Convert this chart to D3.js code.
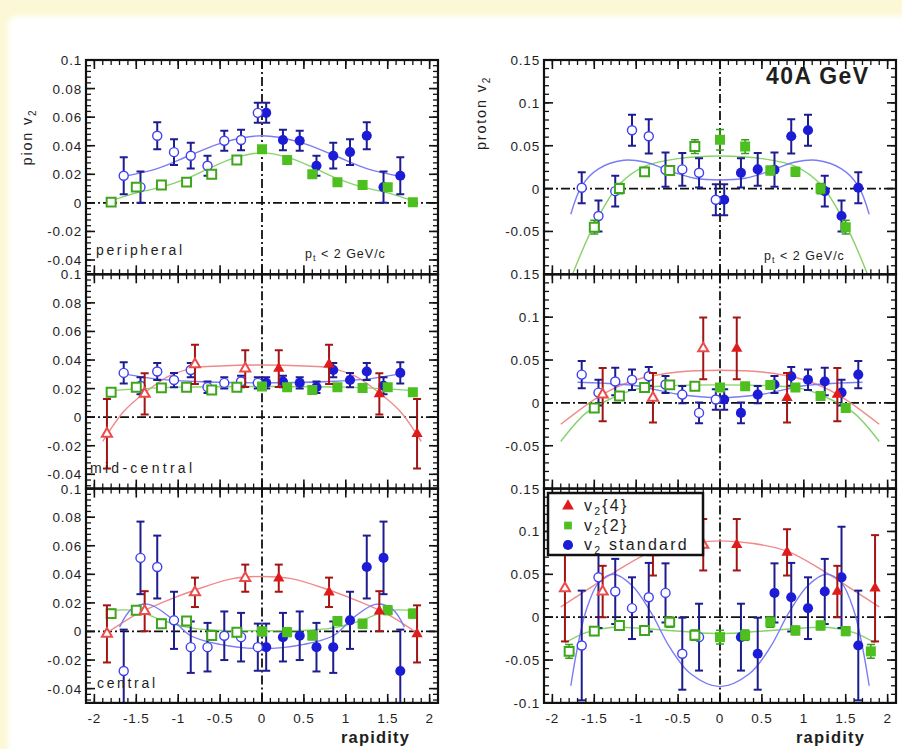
<!DOCTYPE html>
<html>
<head>
<meta charset="utf-8">
<title>v2 vs rapidity, 40A GeV</title>
<script src="https://cdn.jsdelivr.net/npm/d3@7/dist/d3.min.js"></script>
<style>
  html, body { margin: 0; padding: 0; background: #fcf8d6; }
  svg { display: block; }
  text { font-family: "Liberation Sans", Arial, Helvetica, sans-serif; fill: #1e1e1e; }
</style>
</head>
<body>
<svg id="chart" width="902" height="749"></svg>
<script>
// ---- rapidity bins (forward hemisphere; backward points are the reflections) ----
const stdRap  = [0.05, 0.25, 0.45, 0.65, 0.85, 1.05, 1.25, 1.45, 1.65];
const cum2Rap = [0, 0.3, 0.6, 0.9, 1.2, 1.5, 1.8];
const cum4Rap = [0.2, 0.8, 1.4, 1.85];

// ---- axis ticks ----
const rapTicks = [-2, -1.5, -1, -0.5, 0, 0.5, 1, 1.5, 2];
const rapTickLabels = ["-2", "-1.5", "-1", "-0.5", "0", "0.5", "1", "1.5", "2"];
const pionTicks = [-0.04, -0.02, 0, 0.02, 0.04, 0.06, 0.08, 0.1];
const pionTickLabels = ["-0.04", "-0.02", "0", "0.02", "0.04", "0.06", "0.08", "0.1"];
const protonTicks = [-0.1, -0.05, 0, 0.05, 0.1, 0.15];
const protonTickLabels = ["-0.1", "-0.05", "0", "0.05", "0.1", "0.15"];

// ---- pion, peripheral ----
const pionPerStd    = [0.063, 0.044, 0.0435, 0.026, 0.033, 0.0355, 0.047, 0.011, 0.019];
const pionPerStdErr = [0.007, 0.0072, 0.007, 0.007, 0.009, 0.009, 0.0095, 0.011, 0.013];
const pionPerV2     = [0.0375, 0.030, 0.020, 0.0145, 0.0125, 0.011, 0.0005];
const pionPerV2Err  = [0.002, 0.0015, 0.0015, 0.0015, 0.0015, 0.002, 0.002];
const pionPerStdFit = [[0, 0.047], [0.45, 0.0425], [0.85, 0.0335], [1.25, 0.024], [1.7, 0.018]];
const pionPerV2Fit  = [[0, 0.035], [0.3, 0.032], [0.6, 0.025], [0.9, 0.017], [1.2, 0.011], [1.5, 0.007], [1.85, 0.0005]];

// ---- proton, peripheral ----
const protPerStd    = [-0.013, 0.0184, 0.0224, 0.022, 0.061, 0.068, -0.003, -0.032, 0.001];
const protPerStdErr = [0.018, 0.017, 0.019, 0.02, 0.02, 0.018, 0.018, 0.018, 0.018];
const protPerV2     = [0.057, 0.049, 0.021, 0.0195, 0.0, -0.045];
const protPerV2Err  = [0.012, 0.008, 0.005, 0.005, 0.006, 0.008];
const protPerStdFit = [[0, 0.010], [0.3, 0.012], [0.55, 0.019], [0.9, 0.031], [1.15, 0.033], [1.45, 0.023], [1.65, 0.003], [1.78, -0.03]];
const protPerV2Fit  = [[0, 0.038], [0.5, 0.035], [0.9, 0.026], [1.2, 0.005], [1.5, -0.042], [1.78, -0.105]];

// ---- pion, mid-central ----
const pionMidStd    = [0.024, 0.025, 0.024, 0.021, 0.033, 0.026, 0.032, 0.022, 0.031];
const pionMidStdErr = [0.004, 0.004, 0.004, 0.004, 0.005, 0.005, 0.006, 0.006, 0.0075];
const pionMidV2     = [0.0215, 0.021, 0.019, 0.021, 0.0205, 0.021, 0.0175];
const pionMidV2Err  = [0.0015, 0.0015, 0.0015, 0.0015, 0.0015, 0.0015, 0.002];
const pionMidV4     = [0.034, 0.037, 0.0163, -0.0116];
const pionMidV4Err  = [0.0128, 0.0137, 0.0145, 0.0244];
const pionMidStdFit = [[0, 0.024], [0.8, 0.025], [1.3, 0.027], [1.7, 0.031]];
const pionMidV2Fit  = [[0, 0.0215], [1.0, 0.021], [1.85, 0.0185]];
const pionMidV4Fit  = [[0, 0.0365], [0.5, 0.0358], [0.8, 0.0345], [1.1, 0.029], [1.4, 0.017], [1.65, 0.004], [1.9, -0.017]];

// ---- proton, mid-central ----
const protMidStd    = [0.004, -0.0117, 0.0097, 0.0214, 0.031, 0.027, 0.025, 0.012, 0.033];
const protMidStdErr = [0.012, 0.012, 0.01, 0.01, 0.011, 0.012, 0.016, 0.015, 0.016];
const protMidV2     = [0.018, 0.0195, 0.021, 0.018, 0.008, -0.006];
const protMidV2Err  = [0.004, 0.004, 0.004, 0.004, 0.004, 0.005];
const protMidV4     = [0.0635, 0.006, 0.0097];
const protMidV4Err  = [0.036, 0.029, 0.031];
const protMidStdFit = [[0, 0.006], [0.5, 0.01], [1.0, 0.02], [1.4, 0.023], [1.7, 0.024]];
const protMidV2Fit  = [[0, 0.021], [0.6, 0.02], [1.0, 0.016], [1.3, 0.005], [1.6, -0.012], [1.9, -0.045]];
const protMidV4Fit  = [[0, 0.038], [0.5, 0.036], [1.0, 0.027], [1.4, 0.01], [1.9, -0.025]];

// ---- pion, central ----
const pionCenStd    = [-0.011, -0.004, -0.003, -0.011, -0.011, 0.0078, 0.0451, 0.0515, -0.0277];
const pionCenStdErr = [0.0165, 0.017, 0.017, 0.017, 0.018, 0.02, 0.022, 0.0254, 0.029];
const pionCenV2     = [0.0, -0.0005, -0.0028, 0.0073, 0.0054, 0.0149, 0.0125];
const pionCenV2Err  = [0.003, 0.003, 0.003, 0.003, 0.003, 0.003, 0.003];
const pionCenV4     = [0.0373, 0.0274, 0.0142, -0.0017];
const pionCenV4Err  = [0.0095, 0.0103, 0.014, 0.02];
const pionCenStdFit = [[0, -0.012], [0.5, -0.009], [0.85, -0.003], [1.1, 0.01], [1.35, 0.019], [1.55, 0.016], [1.7, 0.003]];
const pionCenV2Fit  = [[0, 0.0005], [0.6, 0.001], [0.9, 0.003], [1.2, 0.008], [1.5, 0.0145], [1.85, 0.0145]];
const pionCenV4Fit  = [[0, 0.0385], [0.35, 0.037], [0.8, 0.029], [1.2, 0.020], [1.5, 0.012], [1.85, -0.001]];

// ---- proton, central ----
const protCenStd    = [null, -0.0233, -0.0426, 0.0283, 0.0233, 0.0105, 0.030, 0.0465, -0.033];
const protCenStdErr = [null, 0.039, 0.042, 0.0345, 0.04, 0.036, 0.038, 0.059, 0.064];
const protCenV2     = [-0.0233, -0.021, -0.0058, -0.0155, -0.0097, -0.0163, -0.0399];
const protCenV2Err  = [0.008, 0.006, 0.006, 0.005, 0.005, 0.005, 0.008];
const protCenV4     = [0.0845, 0.0756, 0.0299, 0.0337];
const protCenV4Err  = [0.030, 0.027, 0.030, 0.062];
const protCenStdFit = [[0, -0.081], [0.35, -0.066], [0.6, -0.035], [0.82, 0.005], [1.05, 0.037], [1.27, 0.05], [1.45, 0.04], [1.6, 0.007], [1.7, -0.035], [1.78, -0.08]];
const protCenV2Fit  = [[0, -0.019], [0.8, -0.014], [1.3, -0.012], [1.6, -0.018], [1.85, -0.03]];
const protCenV4Fit  = [[0, 0.089], [0.4, 0.086], [0.8, 0.077], [1.2, 0.056], [1.6, 0.031], [1.9, 0.012]];

// ---- legend ----
const legendLabels = ["{4}", "{2}", " standard"];

// ---- styles per method ----
const styles = {
  std: { type: d3.symbolCircle,   size: 80, fill: "#1c1cd6", open: "#4040f0", err: "#1d1d8f", fit: "#7b7bf5" },
  v2:  { type: d3.symbolSquare,   size: 100, fill: "#4dbf1f", open: "#3fa51c", err: "#3a9a1a", fit: "#86d36a" },
  v4:  { type: d3.symbolTriangle, size: 55, fill: "#e01b1b", open: "#ea4c4c", err: "#a31515", fit: "#f08a8a" }
};

// ---- layout ----
const W = 902, H = 749;
const colX = [86, 544], colW = 352;
const rowY = [60, 274.3, 488.6], rowH = 214.3;
const yDomains = [[-0.05, 0.1], [-0.1, 0.15]];

const svg = d3.select("#chart");
const defs = svg.append("defs");
defs.append("filter").attr("id", "soft").attr("x", "-5%").attr("y", "-5%").attr("width", "110%").attr("height", "110%")
  .append("feGaussianBlur").attr("stdDeviation", 2.5);

// page card
svg.append("rect").attr("width", W).attr("height", H).attr("fill", "#fcf8d6");
svg.append("rect").attr("x", 8).attr("y", 16).attr("width", W + 20).attr("height", H + 20)
  .attr("rx", 9).attr("fill", "#ffffff").attr("filter", "url(#soft)");

const xScales = colX.map(x0 => d3.scaleLinear().domain([-2.1, 2.1]).range([x0, x0 + colW]));

const panels = [
  { col: 0, row: 0, std: [pionPerStd, pionPerStdErr], v2: [pionPerV2, pionPerV2Err], v4: null,
    fits: { std: pionPerStdFit, v2: pionPerV2Fit } },
  { col: 1, row: 0, std: [protPerStd, protPerStdErr], v2: [protPerV2, protPerV2Err], v4: null,
    fits: { std: protPerStdFit, v2: protPerV2Fit } },
  { col: 0, row: 1, std: [pionMidStd, pionMidStdErr], v2: [pionMidV2, pionMidV2Err], v4: [pionMidV4, pionMidV4Err],
    fits: { std: pionMidStdFit, v2: pionMidV2Fit, v4: pionMidV4Fit } },
  { col: 1, row: 1, std: [protMidStd, protMidStdErr], v2: [protMidV2, protMidV2Err], v4: [protMidV4, protMidV4Err],
    fits: { std: protMidStdFit, v2: protMidV2Fit, v4: protMidV4Fit } },
  { col: 0, row: 2, std: [pionCenStd, pionCenStdErr], v2: [pionCenV2, pionCenV2Err], v4: [pionCenV4, pionCenV4Err],
    fits: { std: pionCenStdFit, v2: pionCenV2Fit, v4: pionCenV4Fit } },
  { col: 1, row: 2, std: [protCenStd, protCenStdErr], v2: [protCenV2, protCenV2Err], v4: [protCenV4, protCenV4Err],
    fits: { std: protCenStdFit, v2: protCenV2Fit, v4: protCenV4Fit } }
];

const rapOf = { std: stdRap, v2: cum2Rap, v4: cum4Rap };

// measured points plus their reflection through mid-rapidity (open symbols)
function reflect(rap, vals, errs) {
  const out = [];
  rap.forEach((r, i) => {
    if (i >= vals.length || vals[i] == null) return;
    out.push({ r, v: vals[i], e: errs[i], open: false });
    if (r > 0) out.push({ r: -r, v: vals[i], e: errs[i], open: true });
  });
  return out;
}

// fit knots are given for y >= 0; the fit is symmetric in rapidity
function mirrorKnots(k) {
  const neg = k.filter(d => d[0] > 0).map(d => [-d[0], d[1]]).reverse();
  return neg.concat(k);
}

function drawAxes(g, x, y, col, row) {
  const x0 = colX[col], x1 = colX[col] + colW;
  const yTop = rowY[row], yBot = rowY[row] + rowH;
  const majorY = col === 0 ? pionTicks : protonTicks;
  const minorStep = col === 0 ? 0.004 : 0.01;
  const dom = yDomains[col];
  const minorY = d3.range(Math.ceil(dom[0] / minorStep - 1e-6), Math.floor(dom[1] / minorStep + 1e-6) + 1)
    .map(k => k * minorStep);
  const minorX = d3.range(-21, 22).map(k => k * 0.1);
  const ax = g.append("g").attr("stroke", "#111").attr("stroke-width", 1.3);
  const big = 9, small = 5;
  minorY.forEach(v => {
    ax.append("line").attr("x1", x0).attr("x2", x0 + small).attr("y1", y(v)).attr("y2", y(v));
    ax.append("line").attr("x1", x1).attr("x2", x1 - small).attr("y1", y(v)).attr("y2", y(v));
  });
  majorY.forEach(v => {
    ax.append("line").attr("x1", x0).attr("x2", x0 + big).attr("y1", y(v)).attr("y2", y(v)).attr("stroke-width", 1.6);
    ax.append("line").attr("x1", x1).attr("x2", x1 - big).attr("y1", y(v)).attr("y2", y(v)).attr("stroke-width", 1.6);
  });
  minorX.forEach(v => {
    ax.append("line").attr("x1", x(v)).attr("x2", x(v)).attr("y1", yBot).attr("y2", yBot - small);
    ax.append("line").attr("x1", x(v)).attr("x2", x(v)).attr("y1", yTop).attr("y2", yTop + small);
  });
  rapTicks.forEach(v => {
    ax.append("line").attr("x1", x(v)).attr("x2", x(v)).attr("y1", yBot).attr("y2", yBot - big).attr("stroke-width", 1.6);
    ax.append("line").attr("x1", x(v)).attr("x2", x(v)).attr("y1", yTop).attr("y2", yTop + big).attr("stroke-width", 1.6);
  });
  g.append("rect").attr("x", x0).attr("y", yTop).attr("width", colW).attr("height", rowH)
    .attr("fill", "none").attr("stroke", "#111").attr("stroke-width", 2.2);

  // y tick labels; where a panel sits on top of another, its lowest label
  // would land on the top label of the panel below, so it is left out
  const labels = col === 0 ? pionTickLabels : protonTickLabels;
  majorY.forEach((v, i) => {
    if (row < 2 && Math.abs(y(v) - yBot) < 1) return;
    g.append("text").attr("x", x0 - 4).attr("y", y(v) + 5)
      .attr("text-anchor", "end").attr("font-size", 13.5).attr("letter-spacing", 0.8)
      .text(labels[i]);
  });
  // x tick labels on the lowest row only
  if (row === 2) {
    rapTicks.forEach((v, i) => {
      g.append("text").attr("x", x(v)).attr("y", yBot + 20)
        .attr("text-anchor", "middle").attr("font-size", 13.5).attr("letter-spacing", 0.8)
        .text(rapTickLabels[i]);
    });
  }
}

panels.forEach(p => {
  const x = xScales[p.col];
  const y = d3.scaleLinear().domain(yDomains[p.col]).range([rowY[p.row] + rowH, rowY[p.row]]);
  const g = svg.append("g");
  const clipId = `clip-${p.col}-${p.row}`;
  defs.append("clipPath").attr("id", clipId).append("rect")
    .attr("x", colX[p.col]).attr("y", rowY[p.row]).attr("width", colW).attr("height", rowH);
  const inner = g.append("g").attr("clip-path", `url(#${clipId})`);

  // mid-rapidity and zero reference lines
  const dash = "9,3,2,3";
  inner.append("line").attr("x1", x(0)).attr("x2", x(0)).attr("y1", rowY[p.row]).attr("y2", rowY[p.row] + rowH)
    .attr("stroke", "#111").attr("stroke-width", 1.8).attr("stroke-dasharray", dash);
  inner.append("line").attr("x1", colX[p.col]).attr("x2", colX[p.col] + colW).attr("y1", y(0)).attr("y2", y(0))
    .attr("stroke", "#111").attr("stroke-width", 1.8).attr("stroke-dasharray", dash);

  // fit curves
  const line = d3.line().x(d => x(d[0])).y(d => y(d[1])).curve(d3.curveCatmullRom.alpha(0.5));
  ["v4", "v2", "std"].forEach(key => {
    if (!p.fits[key]) return;
    inner.append("path").attr("d", line(mirrorKnots(p.fits[key])))
      .attr("fill", "none").attr("stroke", styles[key].fit).attr("stroke-width", 1.4);
  });

  // data: error bars then markers
  ["std", "v2", "v4"].forEach(key => {
    if (!p[key]) return;
    const st = styles[key];
    const pts = reflect(rapOf[key], p[key][0], p[key][1]);
    const eg = inner.append("g").attr("stroke", st.err).attr("stroke-width", key === "v2" ? 1.5 : 2);
    pts.forEach(d => {
      const cx = x(d.r), ylo = y(d.v - d.e), yhi = y(d.v + d.e);
      eg.append("line").attr("x1", cx).attr("x2", cx).attr("y1", ylo).attr("y2", yhi);
      eg.append("line").attr("x1", cx - 4).attr("x2", cx + 4).attr("y1", ylo).attr("y2", ylo);
      eg.append("line").attr("x1", cx - 4).attr("x2", cx + 4).attr("y1", yhi).attr("y2", yhi);
    });
    const sym = d3.symbol().type(st.type);
    pts.forEach(d => {
      inner.append("path")
        .attr("d", sym.size(d.open ? st.size * 0.8 : st.size)())
        .attr("transform", `translate(${x(d.r)},${y(d.v)})`)
        .attr("fill", d.open ? "#ffffff" : st.fill)
        .attr("stroke", d.open ? st.open : "none")
        .attr("stroke-width", key === "std" ? 1.4 : 2);
    });
  });

  drawAxes(g, x, y, p.col, p.row);
});

// ---- text annotations ----
function label(txt, xPos, yPos, size, width, weight, spacing) {
  const t = svg.append("text").attr("x", xPos).attr("y", yPos).attr("font-size", size).text(txt);
  if (width) t.attr("textLength", width).attr("lengthAdjust", "spacing");
  if (weight) t.attr("font-weight", weight);
  if (spacing) t.attr("letter-spacing", spacing);
  return t;
}
label("peripheral", 96, 255, 14, 86);
label("mid-central", 90, 473, 14, 102);
label("central", 97, 688, 14, 58);
label("40A  GeV", 766, 84, 23, null, "bold", 1.4);
label("rapidity", 341, 743, 16.5, null, "bold", 1.2);
label("rapidity", 796, 743, 16.5, null, "bold", 1.2);

function ptLabel(xPos, yPos) {
  const t = svg.append("text").attr("x", xPos).attr("y", yPos).attr("font-size", 12.5).attr("letter-spacing", 1);
  t.append("tspan").text("p");
  t.append("tspan").attr("font-size", 9).attr("dy", 3).text("t");
  t.append("tspan").attr("dy", -3).text(" < 2 GeV/c");
}
ptLabel(305, 258);
ptLabel(764, 260);

function vLabel(prefix, xPos, yPos) {
  const t = svg.append("text").attr("transform", `translate(${xPos},${yPos}) rotate(-90)`)
    .attr("text-anchor", "middle").attr("font-size", 14.5).attr("letter-spacing", 1.8);
  t.append("tspan").text(prefix + " v");
  t.append("tspan").attr("font-size", 10).attr("dy", 4).text("2");
}
vLabel("pion", 32, 137);
vLabel("proton", 486, 113);

// ---- legend ----
const lg = svg.append("g");
lg.append("rect").attr("x", 548).attr("y", 493).attr("width", 155).attr("height", 62)
  .attr("fill", "#ffffff").attr("stroke", "#111").attr("stroke-width", 2.5);
["v4", "v2", "std"].forEach((key, i) => {
  const st = styles[key];
  const cy = 506 + i * 19.5;
  lg.append("path").attr("d", d3.symbol().type(st.type).size(key === "std" ? 80 : 60)())
    .attr("transform", `translate(568,${cy})`).attr("fill", st.fill);
  const t = lg.append("text").attr("x", 584).attr("y", cy + 5).attr("font-size", 16).attr("letter-spacing", 2.2);
  t.append("tspan").text("v");
  t.append("tspan").attr("font-size", 10.5).attr("dy", 4).text("2");
  t.append("tspan").attr("dy", -4).text(legendLabels[i]);
});
</script>
</body>
</html>
